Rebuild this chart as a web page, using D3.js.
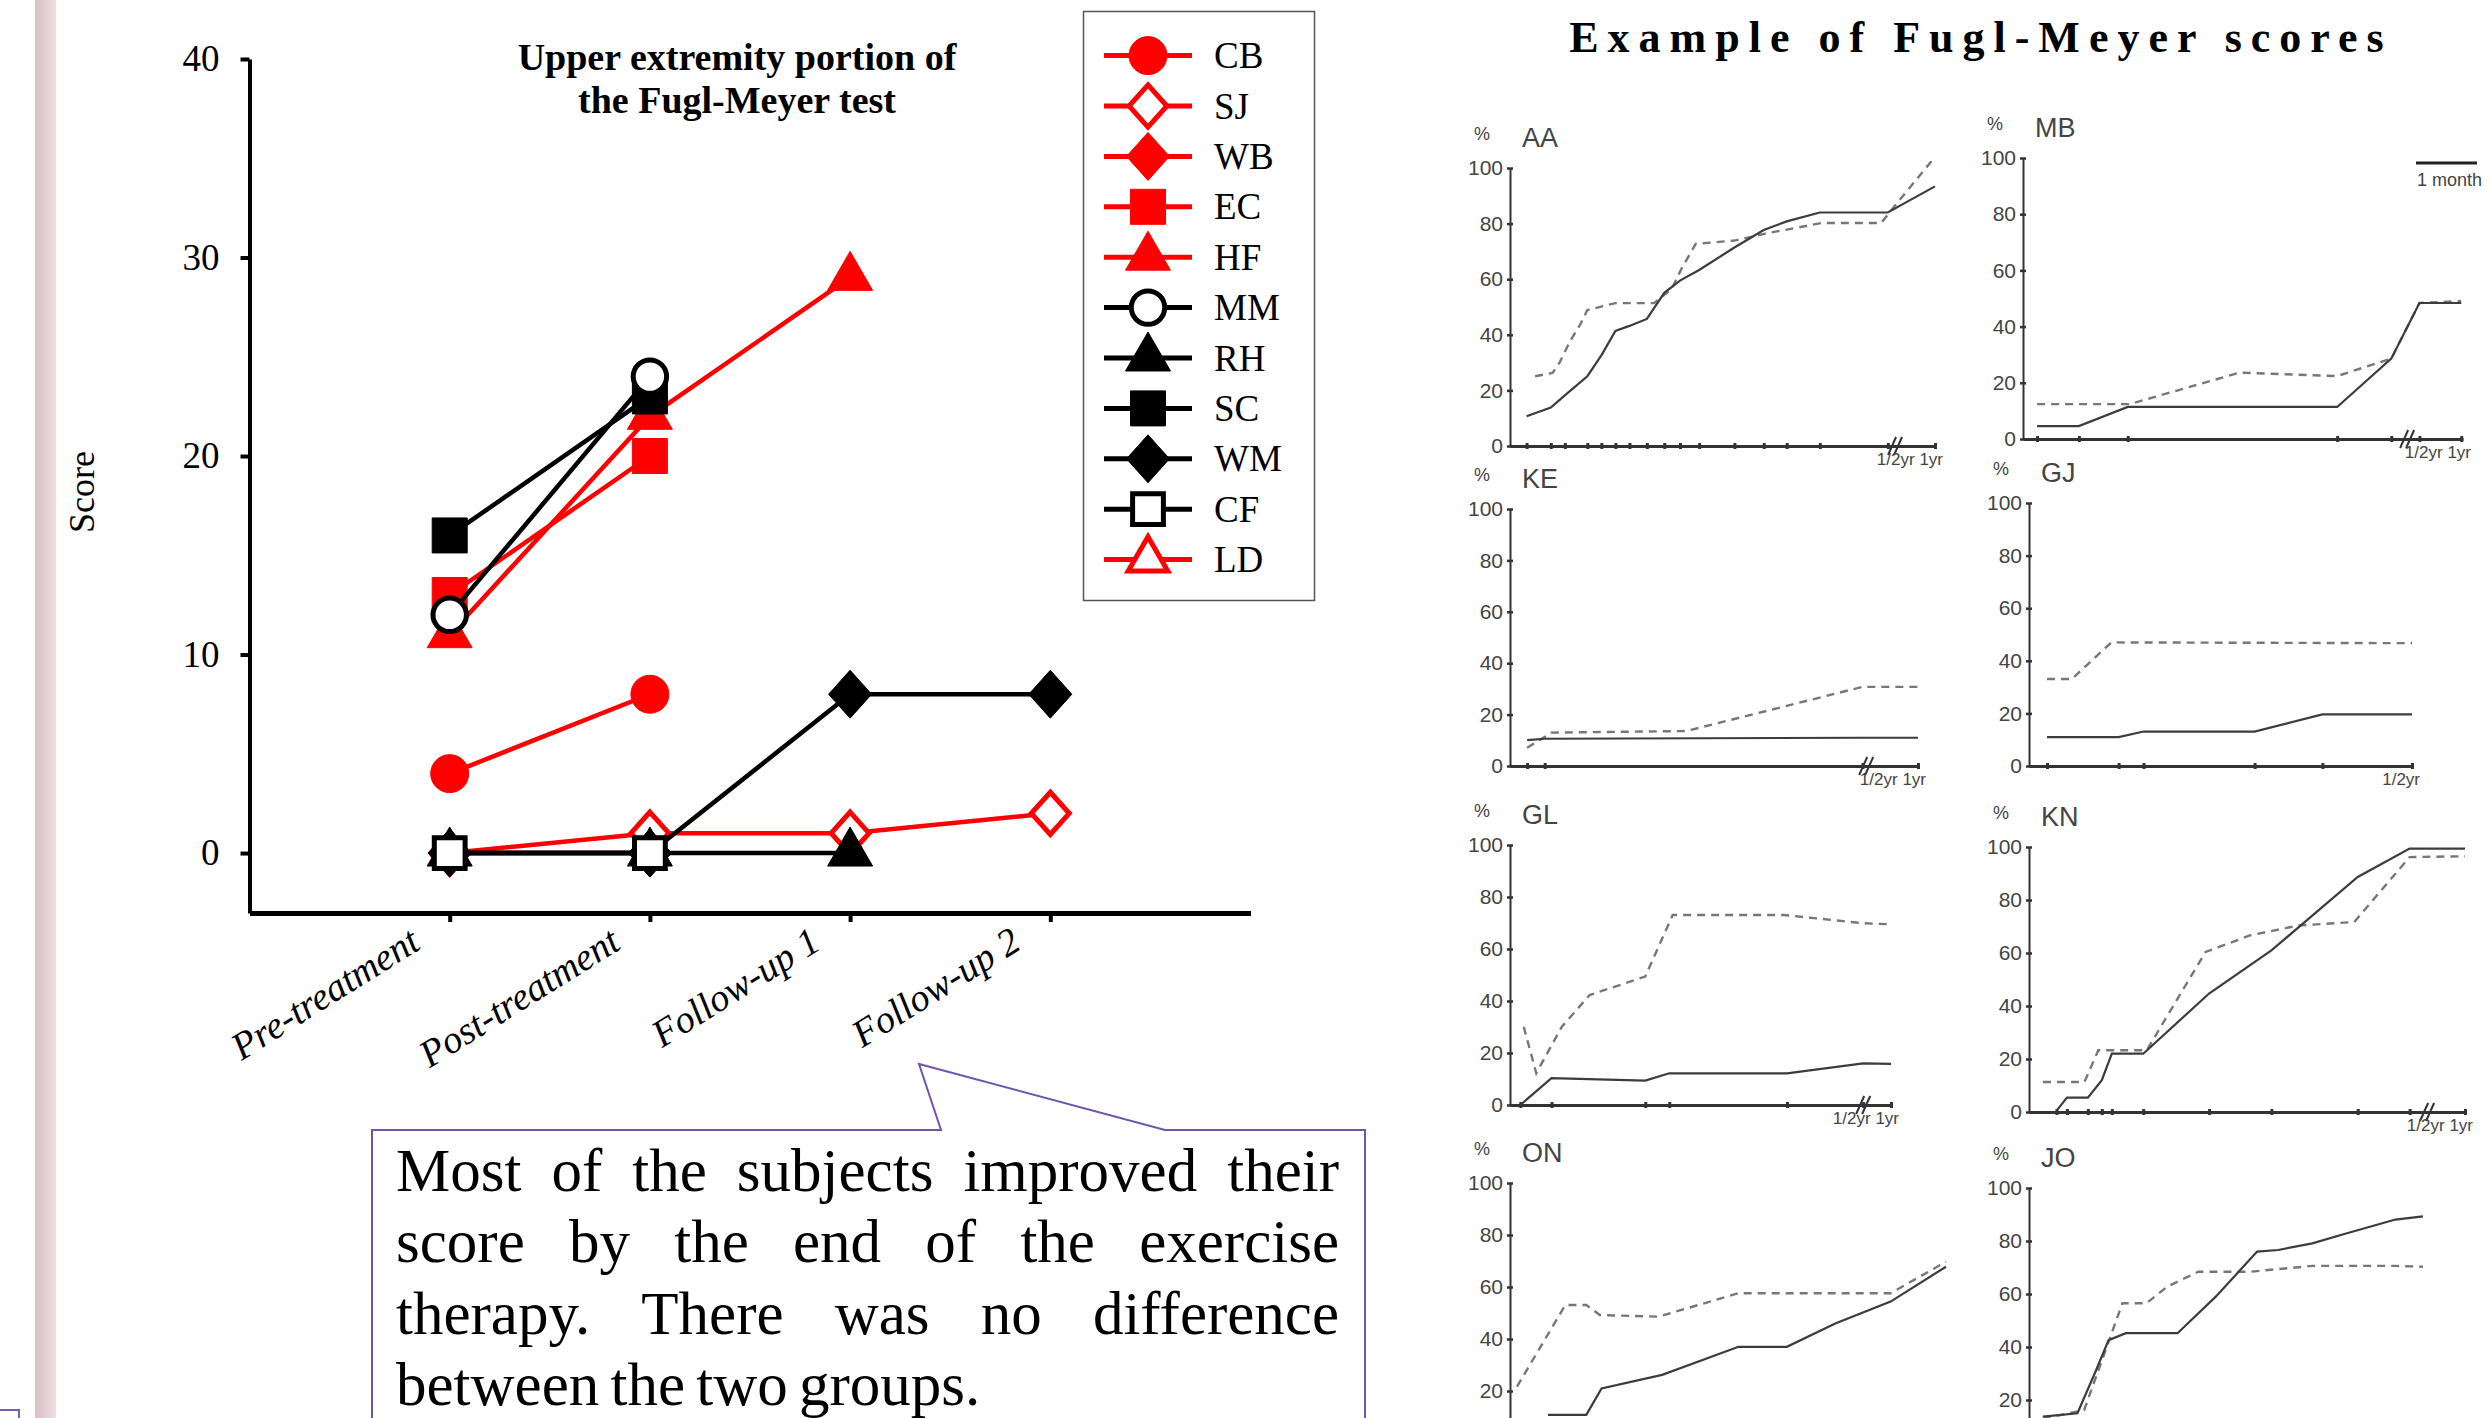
<!DOCTYPE html>
<html>
<head>
<meta charset="utf-8">
<script src="https://cdn.jsdelivr.net/npm/d3@7"></script>
<style>
  body { margin: 0; background: #fff; }
  svg { display: block; }
  .serif { font-family: "Liberation Serif", "Times New Roman", serif; }
  .axis .domain, .axis line { stroke: #000; }
  .panel text { font-family: "Liberation Sans Narrow", "Liberation Sans", Arial, sans-serif; fill: #444; }
  .panel .domain, .panel line { stroke: #333; }
</style>
</head>
<body>
<svg id="slide" width="2491" height="1418"></svg>
<script>
// ---- left chart data ----
const stages = ["Pre-treatment", "Post-treatment", "Follow-up 1", "Follow-up 2"];
const scoreTicks = [0, 10, 20, 30, 40];
const subjects = ["CB", "SJ", "WB", "EC", "HF", "MM", "RH", "SC", "WM", "CF", "LD"];
const subjectColors = ["#ff0000", "#ff0000", "#ff0000", "#ff0000", "#ff0000", "#000", "#000", "#000", "#000", "#000", "#ff0000"];
const subjectShapes = ["circle", "diamond", "diamond", "square", "triangle", "circle", "triangle", "square", "diamond", "square", "triangle"];
const subjectFilled = [true, false, true, true, true, false, true, true, true, false, false];

const scoreCB = [4, 8, null, null];
const scoreSJ = [0, 1, 1, 2];
const scoreWB = [0, 0, null, null];
const scoreEC = [13, 20, null, null];
const scoreHF = [11, 22, 29, null];
const scoreMM = [12, 24, null, null];
const scoreRH = [0, 0, 0, null];
const scoreSC = [16, 23, null, null];
const scoreWM = [0, 0, 8, 8];
const scoreCF = [0, 0, null, null];
const scoreLD = [null, null, null, null];

// red series underneath, black on top
const drawOrder = ["CB", "SJ", "WB", "EC", "HF", "LD", "RH", "SC", "WM", "CF", "MM"];

const calloutLines = [
    "Most of the subjects improved their",
    "score by the end of the exercise",
    "therapy. There was no difference",
    "between the two groups."
];

// ---- right side: Fugl-Meyer example panels (x = time, 0-100 of axis; y = %) ----
const panelNames = ["AA", "MB", "KE", "GJ", "GL", "KN", "ON", "JO"];
const pctTicks = [0, 20, 40, 60, 80, 100];
const panelBreaks = [90.6, 87.3, 87.3, null, 92.7, 91.3, 87.3, 93.0];
const panelEndLabels = ["1/2yr 1yr", "1/2yr 1yr", "1/2yr 1yr", "1/2yr", "1/2yr 1yr", "1/2yr 1yr", "1/2yr 1yr", "1/2yr 1yr"];

const aaSolid = [[3.9,10.7],[9.6,13.8],[12.9,18.2],[18.2,25.1],[21.5,32.6],[24.8,41.4],[28.1,43.2],[32.2,45.7],[36.3,55.1],[40.0,59.5],[44.5,63.3],[52.8,71.4],[59.7,77.7],[65.1,80.8],[72.9,84.0],[88.9,84.0],[100,93.4]];
const aaDashed = [[5.9,25.1],[10.0,26.3],[11.7,30.1],[14.1,37.6],[16.6,43.9],[18.2,48.9],[24.8,51.4],[33.9,51.4],[38.0,56.4],[40.4,63.9],[43.7,72.7],[52.8,73.9],[60.1,76.4],[73.3,80.2],[87.3,80.2],[90.6,86.5],[100,104]];
const mbSolid = [[3.2,4.6],[12.7,4.6],[23.8,11.4],[71.4,11.4],[83.7,28.6],[90.1,48.4],[99.6,48.4]];
const mbDashed = [[3.2,12.4],[24.2,12.4],[49.2,23.6],[71.4,22.4],[83.7,28.6],[90.1,48.4],[99.6,49.1]];
const keSolid = [[4.2,10.1],[8.5,10.6],[86.4,11.0],[100,11.0]];
const keDashed = [[4.2,7.1],[7.6,10.4],[10.2,13.0],[43.2,13.6],[86.4,30.8],[100,30.8]];
const gjSolid = [[4.7,11.0],[23.4,11.0],[29.9,13.1],[58.9,13.1],[76.6,19.6],[100,19.6]];
const gjDashed = [[4.7,33.1],[11.2,33.1],[21.5,47.0],[100,46.7]];
const glSolid = [[2.7,0],[10.9,10.3],[35.5,9.4],[41.8,12.2],[72.7,12.2],[92.7,16.0],[100,15.8]];
const glDashed = [[3.6,30.1],[6.9,12.2],[13.6,30.1],[20.9,42.3],[35.5,49.4],[42.7,73.1],[71.8,73.1],[92.7,69.9],[100,69.5]];
const knSolid = [[6.3,0.4],[8.7,5.4],[13.5,5.4],[16.7,12.0],[19.0,22.0],[26.2,22.0],[41.3,44.7],[55.6,61.0],[75.4,88.7],[87.3,99.4],[100,99.4]];
const knDashed = [[3.2,11.3],[12.7,11.3],[15.9,23.3],[27.0,23.3],[40.5,60.4],[50.8,66.7],[61.9,70.4],[74.6,71.7],[87.3,96.2],[100,96.5]];
const onSolid = [[8.7,10.8],[17.5,10.8],[21.0,21.0],[34.9,26.2],[52.4,37.0],[63.5,37.0],[74.6,46.0],[87.3,54.4],[100,67.8]];
const onDashed = [[1.6,21.7],[12.7,53.1],[17.5,53.1],[20.6,49.2],[34.1,48.6],[52.4,57.6],[87.3,57.6],[100,69.7]];
const joSolid = [[3.5,13.7],[12.3,15.0],[16.7,30.1],[20.2,42.6],[24.6,45.2],[37.7,45.2],[47.4,59.0],[57.9,76.0],[63.2,76.6],[71.9,79.1],[80.7,82.9],[93.0,88.1],[100,89.3]];
const joDashed = [[3.5,12.9],[14.0,16.2],[23.7,56.5],[29.8,56.5],[35.1,62.8],[43.0,68.4],[56.1,68.4],[71.9,70.6],[93.0,70.6],[100,70.3]];

const panelSolid = [aaSolid, mbSolid, keSolid, gjSolid, glSolid, knSolid, onSolid, joSolid];
const panelDashed = [aaDashed, mbDashed, keDashed, gjDashed, glDashed, knDashed, onDashed, joDashed];

// layout of the panels on the slide (pixels)
const panelFrames = [
    {x0: 1510, x1: 1935, y0: 446, y100: 168},
    {x0: 2023, x1: 2463, y0: 439, y100: 158},
    {x0: 1510, x1: 1918, y0: 766, y100: 509},
    {x0: 2029, x1: 2412, y0: 766, y100: 503},
    {x0: 1510, x1: 1891, y0: 1105, y100: 845},
    {x0: 2029, x1: 2465, y0: 1112, y100: 847},
    {x0: 1510, x1: 1946, y0: 1443, y100: 1183},
    {x0: 2029, x1: 2423, y0: 1453, y100: 1188}
];
const slideH = 1418;

const svg = d3.select("#slide");
svg.append("rect").attr("width", 2491).attr("height", slideH).attr("fill", "#fff");

// slide decoration: pink bar on the left
const grad = svg.append("defs").append("linearGradient").attr("id", "bar");
grad.append("stop").attr("offset", "0%").attr("stop-color", "#d9bfc5");
grad.append("stop").attr("offset", "100%").attr("stop-color", "#eedfe2");
svg.append("rect").attr("x", 35).attr("y", 0).attr("width", 21).attr("height", slideH).attr("fill", "url(#bar)");
svg.append("rect").attr("x", -2).attr("y", 1410).attr("width", 21).attr("height", 20)
    .attr("fill", "none").attr("stroke", "#7a5cb0").attr("stroke-width", 2);

// ================= left chart =================
const x = d3.scalePoint().domain(stages).range([249.5, 1250.5]).padding(1);
const y = d3.scaleLinear().domain([-3.02, 40]).range([913, 59]);

const chart = svg.append("g").attr("class", "serif");

const yAxis = chart.append("g").attr("class", "axis")
    .attr("transform", "translate(249.5,0)")
    .call(d3.axisLeft(y).tickValues(scoreTicks).tickSize(9).tickSizeOuter(0).tickPadding(21));
yAxis.select(".domain").attr("stroke-width", 4);
yAxis.selectAll(".tick line").attr("stroke-width", 4);
yAxis.selectAll("text").attr("font-size", 37).attr("font-family", "Liberation Serif").attr("fill", "#000");

const xAxis = chart.append("g").attr("class", "axis")
    .attr("transform", "translate(0,913)")
    .call(d3.axisBottom(x).tickSize(9).tickSizeOuter(0));
xAxis.select(".domain").attr("stroke-width", 5);
xAxis.selectAll(".tick line").attr("stroke-width", 4);
xAxis.selectAll("text")
    .attr("y", 0).attr("dy", 0)
    .attr("text-anchor", "end")
    .attr("transform", "translate(-28,35) rotate(-32)")
    .attr("font-size", 38.5).attr("font-style", "italic")
    .attr("font-family", "Liberation Serif").attr("fill", "#000");

chart.append("text")
    .attr("transform", "translate(94,492) rotate(-90)")
    .attr("text-anchor", "middle")
    .attr("font-size", 36)
    .text("Score");

const title = chart.append("text").attr("text-anchor", "middle").attr("font-size", 38).attr("font-weight", "bold");
title.append("tspan").attr("x", 737).attr("y", 70).text("Upper extremity portion of");
title.append("tspan").attr("x", 737).attr("y", 113).text("the Fugl-Meyer test");

function markerPath(shape, open) {
    const k = open ? 0.88 : 1;
    if (shape === "circle") return d3.symbol(d3.symbolCircle, Math.PI * 19 * 19 * k * k)();
    if (shape === "square") return d3.symbol(d3.symbolSquare, 35 * 35 * k * k)();
    if (shape === "diamond") {
        const w = 21.5 * k, h = 24 * k;
        return `M0,${-h}L${w},0L0,${h}L${-w},0Z`;
    }
    const w = 45 * k, h = 39 * k;
    return `M0,${-h * 2 / 3}L${w / 2},${h / 3}L${-w / 2},${h / 3}Z`;
}

const scoreTable = {
    CB: scoreCB, SJ: scoreSJ, WB: scoreWB, EC: scoreEC, HF: scoreHF, MM: scoreMM,
    RH: scoreRH, SC: scoreSC, WM: scoreWM, CF: scoreCF, LD: scoreLD
};

const line = d3.line()
    .defined(d => d.v != null)
    .x(d => x(d.stage))
    .y(d => y(d.v));

drawOrder.forEach(name => {
    const i = subjects.indexOf(name);
    const color = subjectColors[i];
    const vals = scoreTable[name].map((v, j) => ({stage: stages[j], v: v}));
    const g = chart.append("g").attr("class", "series " + name);
    g.append("path")
        .attr("d", line(vals))
        .attr("fill", "none")
        .attr("stroke", color)
        .attr("stroke-width", 4.5);
    g.selectAll("path.marker")
        .data(vals.filter(d => d.v != null))
        .enter().append("path")
        .attr("class", "marker")
        .attr("transform", d => `translate(${x(d.stage)},${y(d.v)})`)
        .attr("d", markerPath(subjectShapes[i], !subjectFilled[i]))
        .attr("fill", subjectFilled[i] ? color : "#fff")
        .attr("stroke", color)
        .attr("stroke-width", subjectFilled[i] ? 1 : 5);
});

// legend
const legend = chart.append("g");
legend.append("rect")
    .attr("x", 1083.5).attr("y", 11.5).attr("width", 231).attr("height", 589)
    .attr("fill", "#fff").attr("stroke", "#555").attr("stroke-width", 1.5);
subjects.forEach((name, i) => {
    const ly = 55.6 + i * 50.4;
    const color = subjectColors[i];
    legend.append("line")
        .attr("x1", 1104).attr("x2", 1192).attr("y1", ly).attr("y2", ly)
        .attr("stroke", color).attr("stroke-width", 5);
    legend.append("path")
        .attr("transform", `translate(1148,${ly})`)
        .attr("d", markerPath(subjectShapes[i], !subjectFilled[i]))
        .attr("fill", subjectFilled[i] ? color : "#fff")
        .attr("stroke", color)
        .attr("stroke-width", subjectFilled[i] ? 1 : 5);
    legend.append("text")
        .attr("x", 1214).attr("y", ly + 12.5)
        .attr("font-size", 37)
        .text(name);
});

// callout box with pointer
const callout = svg.append("g").attr("class", "serif");
callout.append("path")
    .attr("d", "M372,1440L372,1130L941,1130L919,1064L1165,1130L1365,1130L1365,1440")
    .attr("fill", "#fff").attr("stroke", "#6f55ac").attr("stroke-width", 2);

const textLeft = 396, textRight = 1339;
calloutLines.forEach((str, li) => {
    const baseY = 1191 + li * 71.3;
    const words = str.split(" ");
    const last = li === calloutLines.length - 1;
    if (last) {
        callout.append("text").attr("x", textLeft).attr("y", baseY)
            .attr("font-size", 61).attr("word-spacing", -4).text(str);
        return;
    }
    const nodes = words.map(w => callout.append("text").attr("y", baseY).attr("font-size", 61).text(w));
    const widths = nodes.map(n => n.node().getComputedTextLength());
    const gap = (textRight - textLeft - d3.sum(widths)) / (words.length - 1);
    let cx = textLeft;
    nodes.forEach((n, j) => { n.attr("x", cx); cx += widths[j] + gap; });
});

// ================= right side panels =================
svg.append("text")
    .attr("class", "serif")
    .attr("x", 1981).attr("y", 52)
    .attr("text-anchor", "middle")
    .attr("font-size", 44).attr("font-weight", "bold")
    .attr("letter-spacing", 9)
    .text("Example of Fugl-Meyer scores");

panelNames.forEach((name, p) => {
    const f = panelFrames[p];
    const px = d3.scaleLinear().domain([0, 100]).range([f.x0, f.x1]);
    const py = d3.scaleLinear().domain([0, 100]).range([f.y0, f.y100]);
    const g = svg.append("g").attr("class", "panel");

    const ya = g.append("g")
        .attr("transform", `translate(${f.x0},0)`)
        .call(d3.axisLeft(py).tickValues(pctTicks).tickSize(4).tickSizeOuter(0).tickPadding(3));
    ya.select(".domain").attr("stroke-width", 2);
    ya.selectAll(".tick line").attr("x2", -3).attr("x1", 3).attr("stroke-width", 2.5);
    ya.selectAll("text").attr("font-size", 21);
    // labels that fall below the slide edge are not shown
    ya.selectAll(".tick").filter(d => py(d) > slideH - 8).select("text").remove();

    const tickXs = panelSolid[p].map(d => d[0]);
    const xa = g.append("g")
        .attr("transform", `translate(0,${f.y0})`)
        .call(d3.axisBottom(px).tickValues(tickXs).tickSize(3).tickSizeOuter(0).tickFormat(""));
    xa.select(".domain").attr("stroke-width", 3);
    xa.selectAll(".tick line").attr("y1", -3).attr("y2", 3).attr("stroke-width", 3);

    if (panelBreaks[p] != null) {
        const bx = px(panelBreaks[p]);
        [-3, 3].forEach(o => {
            g.append("line")
                .attr("x1", bx + o - 4).attr("y1", f.y0 + 9)
                .attr("x2", bx + o + 4).attr("y2", f.y0 - 9)
                .attr("stroke-width", 2);
        });
    }

    if (f.y0 + 19 < slideH) {
        g.append("text")
            .attr("x", f.x1 + 8).attr("y", f.y0 + 19)
            .attr("text-anchor", "end").attr("font-size", 17)
            .text(panelEndLabels[p]);
    }
    g.append("text").attr("x", f.x0 - 36).attr("y", f.y100 - 28).attr("font-size", 18).text("%");
    g.append("text").attr("x", f.x0 + 12).attr("y", f.y100 - 21).attr("font-size", 27).text(name);

    const pl = d3.line().x(d => px(d[0])).y(d => py(d[1]));
    g.append("path").attr("d", pl(panelDashed[p]))
        .attr("fill", "none").attr("stroke", "#777").attr("stroke-width", 2.4)
        .attr("stroke-dasharray", "8,6");
    g.append("path").attr("d", pl(panelSolid[p]))
        .attr("fill", "none").attr("stroke", "#3c3c3c").attr("stroke-width", 2.2);
});

// "1 month" scale bar in the MB panel
const mb = panelFrames[1];
svg.append("line").attr("x1", mb.x1 - 47).attr("x2", mb.x1 + 14).attr("y1", 163).attr("y2", 163)
    .attr("stroke", "#222").attr("stroke-width", 3);
svg.append("text").attr("class", "panel").attr("x", mb.x1 + 19).attr("y", 186)
    .attr("text-anchor", "end").attr("font-size", 18).attr("fill", "#444")
    .attr("font-family", "Liberation Sans Narrow, Liberation Sans, sans-serif")
    .text("1 month");
</script>
</body>
</html>
